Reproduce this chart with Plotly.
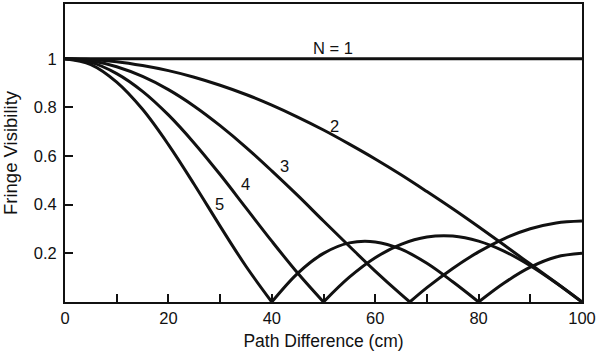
import plotly.graph_objects as go

# Path difference (cm) sample positions
path_cm = [0, 5, 10, 15, 20, 25, 30, 35, 40, 45, 50, 55, 60, 65, 70, 75, 80, 85, 90, 95, 100]
n3_path_cm = [0, 5, 10, 15, 20, 25, 30, 35, 40, 45, 50, 55, 60, 65, 66.7, 70, 75, 80, 85, 90, 95, 100]

# Fringe visibility
vis_n1 = [1.0] * len(path_cm)
vis_n2 = [1.000, 0.997, 0.988, 0.972, 0.951, 0.924, 0.891, 0.853, 0.809, 0.760, 0.707,
          0.649, 0.588, 0.523, 0.454, 0.383, 0.309, 0.233, 0.156, 0.079, 0.000]
vis_n3 = [1.000, 0.992, 0.967, 0.927, 0.873, 0.805, 0.725, 0.636, 0.539, 0.438, 0.333,
          0.229, 0.127, 0.031, 0.000, 0.059, 0.138, 0.206, 0.261, 0.301, 0.325, 0.333]
vis_n4 = [1.000, 0.985, 0.939, 0.866, 0.769, 0.653, 0.524, 0.387, 0.250, 0.119, 0.000,
          0.102, 0.182, 0.237, 0.267, 0.271, 0.250, 0.208, 0.149, 0.078, 0.000]
vis_n5 = [1.000, 0.976, 0.904, 0.792, 0.647, 0.483, 0.312, 0.147, 0.000, 0.118, 0.200,
          0.243, 0.247, 0.217, 0.159, 0.083, 0.000, 0.079, 0.143, 0.185, 0.200]

# Curve labels
label_text = ["N = 1", "2", "3", "4", "5"]
label_x = [51.8, 52.2, 42.4, 35.0, 29.8]
label_y = [1.045, 0.722, 0.559, 0.486, 0.404]

x_ticks = [0, 20, 40, 60, 80, 100]
y_ticks = [0.2, 0.4, 0.6, 0.8, 1.0]
y_tick_text = ["0.2", "0.4", "0.6", "0.8", "1"]

FONT = "Liberation Sans, Arial, Helvetica, sans-serif"
INK = "#111111"


def split_lobes(xs, ys):
    """Break a curve at its interior zeros so each lobe keeps a sharp cusp."""
    ox, oy = [], []
    for i, (x, y) in enumerate(zip(xs, ys)):
        ox.append(x)
        oy.append(y)
        if y == 0 and 0 < i < len(xs) - 1:
            ox += [None, x]
            oy += [None, y]
    return ox, oy


fig = go.Figure()
series = [
    (path_cm, vis_n1),
    (path_cm, vis_n2),
    (n3_path_cm, vis_n3),
    (path_cm, vis_n4),
    (path_cm, vis_n5),
]
for xs, ys in series:
    sx, sy = split_lobes(xs, ys)
    fig.add_trace(go.Scatter(
        x=sx, y=sy, mode="lines",
        line=dict(color=INK, width=3, shape="spline"),
        connectgaps=False, showlegend=False, hoverinfo="skip",
    ))

for t, x, y in zip(label_text, label_x, label_y):
    fig.add_annotation(x=x, y=y, text=t, showarrow=False,
                       font=dict(family=FONT, size=16.5, color=INK))

fig.update_layout(
    width=600, height=351,
    margin=dict(l=65, r=18, t=2, b=49),
    paper_bgcolor="white", plot_bgcolor="white",
    font=dict(family=FONT, size=16.5, color=INK),
    showlegend=False,
)
fig.update_xaxes(
    range=[0, 100], tickvals=x_ticks, ticks="inside", ticklen=8, tickwidth=2,
    tickcolor=INK, showline=True, linewidth=2, linecolor=INK, mirror=True,
    showgrid=False, zeroline=False,
    minor=dict(ticks="inside", dtick=10, tick0=0, ticklen=8, tickwidth=2,
               tickcolor=INK, showgrid=False),
    title=dict(text="Path Difference (cm)", font=dict(size=17.5), standoff=9),
    tickfont=dict(size=16.5),
)
fig.update_yaxes(
    range=[0, 1.225], tickvals=y_ticks, ticktext=y_tick_text, ticks="inside",
    ticklen=8, tickwidth=2, tickcolor=INK, showline=True, linewidth=2,
    linecolor=INK, mirror=True, showgrid=False, zeroline=False,
    title=dict(text="Fringe Visibility", font=dict(size=18.5), standoff=11),
    tickfont=dict(size=16.5), ticklabelstandoff=3,
)

fig.write_html("out.html")
